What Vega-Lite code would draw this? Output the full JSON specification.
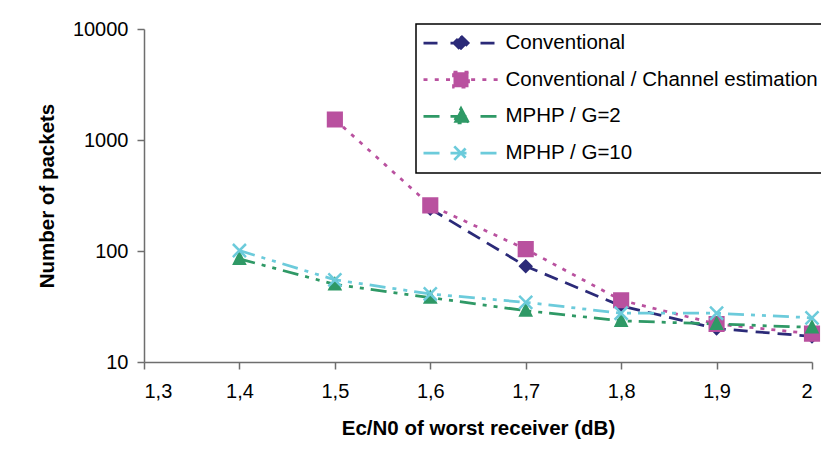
{
  "$schema": "https://vega.github.io/schema/vega-lite/v6.json",
  "autosize": {"type": "none"},
  "width": 668,
  "height": 333,
  "padding": {"left": 144, "top": 29, "right": 9, "bottom": 98},
  "background": "white",
  "config": {
    "view": {"stroke": null},
    "font": "Liberation Sans",
    "axis": {
      "grid": false,
      "domainColor": "#6e6e6e",
      "domainWidth": 1.5,
      "tickColor": "#6e6e6e",
      "tickWidth": 1.5,
      "tickSize": 7,
      "labelFont": "Liberation Sans",
      "labelFontSize": 20,
      "labelColor": "#000000",
      "titleFont": "Liberation Sans",
      "titleFontSize": 20.5,
      "titleFontWeight": "bold",
      "titleColor": "#000000"
    }
  },
  "data": {
    "values": [
      {"series": "Conventional", "x": 1.6, "y": 240},
      {"series": "Conventional", "x": 1.7, "y": 73},
      {"series": "Conventional", "x": 1.8, "y": 32},
      {"series": "Conventional", "x": 1.9, "y": 20},
      {"series": "Conventional", "x": 2.0, "y": 17},
      {"series": "Conventional / Channel estimation", "x": 1.5, "y": 1530},
      {"series": "Conventional / Channel estimation", "x": 1.6, "y": 258},
      {"series": "Conventional / Channel estimation", "x": 1.7, "y": 104},
      {"series": "Conventional / Channel estimation", "x": 1.8, "y": 36},
      {"series": "Conventional / Channel estimation", "x": 1.9, "y": 22},
      {"series": "Conventional / Channel estimation", "x": 2.0, "y": 18},
      {"series": "MPHP / G=2", "x": 1.4, "y": 85},
      {"series": "MPHP / G=2", "x": 1.5, "y": 50},
      {"series": "MPHP / G=2", "x": 1.6, "y": 38},
      {"series": "MPHP / G=2", "x": 1.7, "y": 29},
      {"series": "MPHP / G=2", "x": 1.8, "y": 23.5},
      {"series": "MPHP / G=2", "x": 1.9, "y": 22},
      {"series": "MPHP / G=2", "x": 2.0, "y": 20.5},
      {"series": "MPHP / G=10", "x": 1.4, "y": 101},
      {"series": "MPHP / G=10", "x": 1.5, "y": 55},
      {"series": "MPHP / G=10", "x": 1.6, "y": 41},
      {"series": "MPHP / G=10", "x": 1.7, "y": 34.5},
      {"series": "MPHP / G=10", "x": 1.8, "y": 27.5},
      {"series": "MPHP / G=10", "x": 1.9, "y": 27.5},
      {"series": "MPHP / G=10", "x": 2.0, "y": 25}
    ]
  },
  "encoding": {
    "x": {
      "field": "x",
      "type": "quantitative",
      "scale": {"domain": [1.3, 2.0], "nice": false, "zero": false},
      "axis": {
        "title": "Ec/N0 of worst receiver (dB)",
        "values": [1.3, 1.4, 1.5, 1.6, 1.7, 1.8, 1.9, 2.0],
        "labelExpr": "replace(toString(round(datum.value*10)/10), '.', ',')",
        "labelPadding": 12,
        "titlePadding": 17
      }
    },
    "y": {
      "field": "y",
      "type": "quantitative",
      "scale": {"type": "log", "domain": [10, 10000], "nice": false},
      "axis": {
        "title": "Number of packets",
        "values": [10, 100, 1000, 10000],
        "format": "d",
        "labelPadding": 9,
        "titlePadding": 14.5
      }
    }
  },
  "layer": [
    {
      "mark": {"type": "line", "strokeWidth": 2.75},
      "encoding": {
        "color": {
          "field": "series",
          "type": "nominal",
          "scale": {
            "domain": ["Conventional", "Conventional / Channel estimation", "MPHP / G=2", "MPHP / G=10"],
            "range": ["#2b2a78", "#b9519f", "#2f9966", "#6ccbdb"]
          },
          "legend": {
            "title": null,
            "orient": "none",
            "legendX": 272,
            "legendY": -5,
            "padding": 6,
            "strokeColor": "#000000",
            "fillColor": "white",
            "symbolSize": 5625,
            "symbolStrokeWidth": 2.5,
            "symbolOpacity": 1,
            "clipHeight": 26,
            "rowPadding": 10.7,
            "labelOffset": 5.5,
            "labelFont": "Liberation Sans",
            "labelFontSize": 20.5,
            "labelColor": "#000000",
            "labelLimit": 400,
            "encode": {
              "legend": {
                "update": {
                  "strokeWidth": {"value": 1.5}
                }
              },
              "symbols": {
                "update": {
                  "shape": {"signal": "datum.value === 'Conventional' ? 'M-1,0H-0.52M-0.28,0H0.28M0.52,0H1M0,-0.19L0.19,0L0,0.19L-0.19,0Z' : datum.value === 'Conventional / Channel estimation' ? 'M-1,0H-0.87M-0.7,0H-0.57M-0.4,0H-0.27M0.27,0H0.4M0.57,0H0.7M0.87,0H1M-0.2,-0.2H0.2V0.2H-0.2Z' : datum.value === 'MPHP / G=2' ? 'M-1,0H-0.52M-0.28,0H0.28M0.52,0H1M0,-0.21L0.2,0.17L-0.2,0.17Z' : 'M-1,0H-0.52M-0.28,0H0.28M0.52,0H1M-0.18,-0.18L0.18,0.18M-0.18,0.18L0.18,-0.18'"},
                  "fill": {"scale": "color", "field": "value"},
                  "stroke": {"scale": "color", "field": "value"},
                  "strokeWidth": {"value": 2.75},
                  "strokeDash": {"value": []},
                  "opacity": {"value": 1}
                }
              }
            }
          }
        },
        "strokeDash": {
          "field": "series",
          "type": "nominal",
          "scale": {
            "domain": ["Conventional", "Conventional / Channel estimation", "MPHP / G=2", "MPHP / G=10"],
            "range": [[14, 8], [4, 7], [16, 7, 4, 7, 4, 7], [16, 7, 4, 7, 4, 7]]
          },
          "legend": null
        }
      }
    },
    {
      "transform": [{"filter": "datum.series === 'Conventional'"}],
      "mark": {"type": "point", "shape": "diamond", "size": 120, "filled": true, "opacity": 1, "color": "#2b2a78", "stroke": "#2b2a78", "strokeWidth": 2.5}
    },
    {
      "transform": [{"filter": "datum.series === 'Conventional / Channel estimation'"}],
      "mark": {"type": "point", "shape": "square", "size": 200, "filled": true, "opacity": 1, "color": "#b9519f", "stroke": "#b9519f", "strokeWidth": 2}
    },
    {
      "transform": [{"filter": "datum.series === 'MPHP / G=2'"}],
      "mark": {"type": "point", "shape": "M0,-1.1L1,0.9L-1,0.9Z", "size": 130, "filled": true, "opacity": 1, "color": "#2f9966", "stroke": "#2f9966", "strokeWidth": 2}
    },
    {
      "transform": [{"filter": "datum.series === 'MPHP / G=10'"}],
      "mark": {"type": "point", "shape": "M-1,-1L1,1M-1,1L1,-1", "size": 170, "filled": false, "opacity": 1, "color": "#6ccbdb", "stroke": "#6ccbdb", "strokeWidth": 2.5}
    }
  ]
}
